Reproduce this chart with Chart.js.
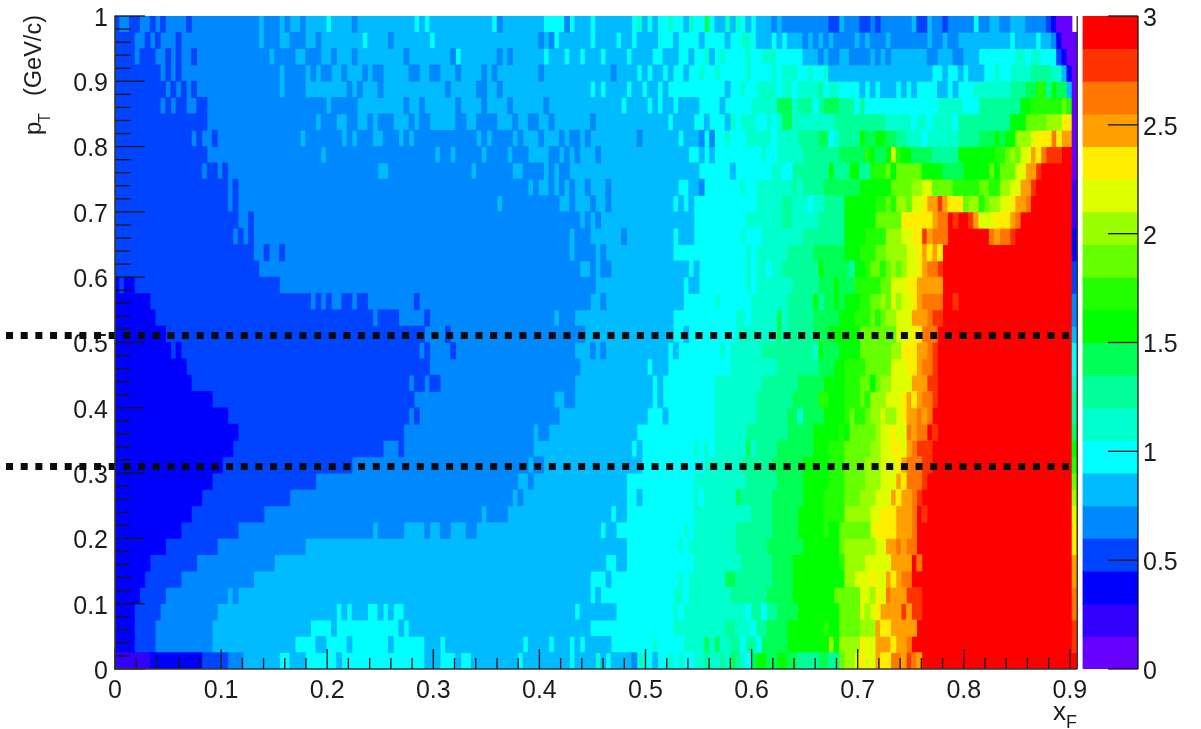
<!DOCTYPE html>
<html>
<head>
<meta charset="utf-8">
<title>pT vs xF</title>
<script src="https://cdn.jsdelivr.net/npm/chart.js@4/dist/chart.umd.js"></script>
<style>
html,body{margin:0;padding:0;background:#fff}
canvas{display:block;filter:blur(0.45px)}
</style>
</head>
<body>
<canvas id="c" width="1201" height="729"></canvas>
<script>
// Colour bins of the z axis, lowest first. Letters in cellRows index this list.
const zBinWidth = 0.15;
const levelLetters = "abcdefghijklmnopqrst";
const palette = ["#6600ff","#3300ff","#0000ff","#0044ff","#0088ff","#00bbff","#00ffff","#00ffcc","#00ff99","#00ff55",
                 "#00ff00","#22ff00","#66ff00","#99ff00","#ddff00","#ffee00","#ffa000","#ff7700","#ff3300","#ff0000"];
const xTicks = [0,0.1,0.2,0.3,0.4,0.5,0.6,0.7,0.8,0.9];
const yTicks = [0,0.1,0.2,0.3,0.4,0.5,0.6,0.7,0.8,0.9,1];
const zTicks = [0,0.5,1,1.5,2,2.5,3];
const xfBinStart = -0.00113;
const xfBinWidth = 0.004882;
const ptBinWidth = 0.025;
const dashedCuts = [0.5107,0.3101];
// One string per pT bin, top (pT = 1) to bottom (pT = 0). Each token: colour bin + index of the
// first xF bin after the run. "w" marks an empty bin.
const cellRows = [
"d1 e3 d5 e7 d8 e9 d10 e14 d15 e28 f29 e32 f33 e34 f36 e37 f41 g42 f46 e47 f58 g59 f60 g61 f73 g74 e75 f83 g87 e88 g89 f92 g93 f100 g101 h102 f103 g104 f105 g107 h108 g110 f111 h112 g114 j115 g116 f118 h119 f120 h121 g122 f123 g124 f127 e128 f129 e138 d140 f141 e144 d146 e147 d148 e154 f155 d157 f158 e160 d161 e166 g167 e169 f171 e173 f176 e180 d181 c182 a185 w186",
"d4 e6 d7 e8 d9 e12 d13 e28 f29 e32 f34 e37 f39 e40 f48 g49 f53 e54 f61 g62 f82 e83 f84 e85 g86 f92 g93 f97 g98 f100 g101 f105 g108 f109 g113 f114 g118 f119 g121 h123 g124 f127 g128 f129 g130 f133 e134 f135 e136 f137 e138 f139 e143 f144 e145 f146 e149 f150 e157 f158 e160 f161 e163 f173 g174 f178 g179 f181 e182 c183 a186",
"d4 e5 d8 e10 d11 e12 d13 e15 d16 e30 f31 e35 f37 e40 f42 e43 f46 e47 f56 e57 f65 e66 g67 f74 e75 f76 e77 f83 g84 f87 g88 f90 g91 f94 g95 f99 g100 f104 g106 f109 g111 f112 g114 h115 f116 g117 h118 g122 h123 g125 h128 g133 f136 e137 f138 e140 f142 e146 f147 e148 f149 e150 f157 e159 f162 e164 f167 g174 h176 g177 h179 g182 d183 c184 a186",
"d9 e10 d11 e12 d13 e32 f33 e37 f38 e39 f40 e42 f44 e45 f48 e49 f50 e52 f57 e59 f61 e63 f66 e67 f71 e72 f73 e74 f82 e83 f96 e97 f101 g102 f103 g104 f106 g107 f108 g110 f111 g113 h114 g116 h117 g122 h123 g127 h128 g129 h132 g134 h135 g137 h138 f158 g160 f161 g163 f164 g165 f168 g170 h171 g173 h177 i181 h183 f184 c185 a186",
"d10 e11 d12 e13 d14 e15 d16 e32 f33 e37 f45 e46 f47 e48 f51 e52 f64 e65 f70 e72 f74 e75 f92 g93 f94 g95 f99 g100 f102 g103 f105 g106 f107 g118 f119 g121 h122 g124 h128 g129 h131 g132 h136 i137 g138 h140 g144 f145 g146 f147 g148 f151 g152 f153 g154 f155 g159 f161 g162 f163 g166 h173 i176 j178 l180 i181 k182 j184 f185 a186",
"d9 e10 d11 e12 d14 e16 d18 e41 f42 e47 f56 e57 f59 e60 f66 e67 f71 e72 f76 e77 f83 e84 f98 g99 f103 g104 f105 g106 f108 g109 f113 g117 f118 g123 h128 j131 h132 i135 g136 i137 j140 i143 g144 i145 g159 h164 g167 i175 k177 l183 m184 l185 a186",
"d18 e39 f40 e43 f45 e47 f49 e50 f51 e54 f57 e58 f59 e61 f66 e68 f70 e74 f77 e78 f80 e82 f84 e85 f92 e93 f107 g108 f112 g114 f115 g118 f119 h120 g121 h124 g126 h127 g128 h129 j131 h139 i149 h154 g155 h157 g158 h162 g163 i173 k176 m180 n183 p185 a186",
"d15 e16 d17 e19 d20 e36 f37 e44 f45 e46 f47 e50 f52 e55 f56 e57 f58 e70 f71 e72 f73 e77 f78 e79 f82 e83 f86 e87 f88 e90 f91 e92 f101 e102 f109 g110 f113 e114 g115 e116 g118 h119 g122 h127 g128 h132 i136 j138 g139 h140 i144 k145 j147 k149 j151 i153 h156 g157 h163 i167 j170 k171 j172 k174 n177 o178 p181 r182 p183 q185 a186",
"d18 e40 f41 e62 f63 e65 f66 e71 f72 e76 f77 e80 f84 e86 f87 e88 f89 e90 f93 e94 f111 g113 f114 g115 f116 g125 h126 g128 h133 i140 j145 l146 k147 j149 k150 o151 l152 k154 j158 i163 k170 l172 m173 n174 m175 o177 q178 p179 r180 s183 t185 a186",
"d17 e18 d20 e21 d22 e51 f53 e69 f70 e77 f79 e83 f84 e85 f86 e88 f113 g119 f120 g127 h129 g131 i138 k139 i142 k144 i146 l149 m150 k151 m156 k160 j164 k169 m170 k171 m174 o176 q178 s179 t185 a186",
"d22 e23 d24 e80 f81 e82 f84 e85 f86 e87 f88 e89 f91 e92 f95 e96 f109 g111 f113 e114 g121 h122 g124 h131 i132 h133 i137 j144 k150 m154 n156 o158 m162 l167 m169 l171 n173 o175 q177 s178 t185 b186",
"d22 e23 d24 e74 f75 e86 f88 e89 f92 e93 f95 e96 f108 g109 f110 g111 f112 g124 h129 i131 h134 g135 h137 i141 k147 l149 m150 l151 n153 m154 o156 p157 q159 s160 q161 p164 m165 n167 l168 m169 n171 o173 p174 q176 r177 t185 b186",
"d24 e26 d27 e90 f91 e92 f93 e94 f112 g122 h129 i131 h136 i141 k147 m152 p158 q159 r161 t162 s163 t165 s166 q167 o170 p173 q174 r175 t185 b186",
"d23 e24 d25 e26 d27 e88 f89 e92 f98 e99 f108 g109 f112 g121 h122 g125 h133 i141 k145 l149 n152 o154 p156 s157 q158 r161 t169 r170 q171 r173 s174 t185 c186",
"d27 e29 d30 e32 d33 e88 f89 e93 f94 e95 f108 g122 h123 g124 h130 i135 j141 k144 l147 m149 n153 o155 p156 q157 p158 q159 p160 t185 c186",
"d28 e90 f92 e93 f94 e96 f111 g112 f113 g122 h123 g124 h126 g127 h129 i136 k137 j142 i143 k145 l146 m148 l149 m150 n151 m152 n153 o155 p156 q157 r159 s160 t185 d186",
"c1 d2 c4 d32 e93 f110 g111 f113 g122 h123 g124 h131 i136 j139 k140 j143 l148 m150 o153 p155 q160 t185 d186",
"c7 d38 e39 d40 e41 d42 e44 d46 e47 d49 e58 d59 e92 f94 e95 f110 g116 h117 g123 h130 i135 k136 i137 j139 k140 j141 k144 l146 m148 n149 m150 o151 n152 o154 p155 q156 r160 t162 s163 t185 e186",
"c8 d50 e51 d55 e60 d61 e85 f86 e89 f108 g120 h122 g123 h128 j129 h130 i135 j140 k143 l146 m147 l148 m149 n151 o154 q157 r158 s160 t185 e186",
"c10 d60 e64 d65 e91 f108 g110 f111 g120 h128 j129 h130 i135 j138 k144 m151 o154 p156 r159 t185 f186",
"c11 d12 c13 d59 e60 d61 e65 d66 e89 f92 e93 f94 e95 f107 g108 f109 g117 h118 g119 h125 i135 h136 k137 j140 k144 m150 n152 p155 q157 r158 s159 t185 g186",
"c14 d61 e90 f103 g104 f107 g119 h128 i136 j139 k141 l145 m150 o153 p155 q156 r158 s159 t185 g186",
"c15 d57 e58 d60 e61 d63 e89 f104 g105 f106 g116 h125 i132 j137 k141 l144 m146 k147 m148 n150 o154 q157 s159 t185 h186",
"c19 d58 e85 f87 e89 f104 g105 f106 g116 h124 i131 j136 l138 k141 l144 m145 l146 n149 o152 p153 q154 p155 q156 r158 s159 t185 i186",
"c22 d57 e58 d59 e86 f103 g106 f107 g116 h124 i130 j132 h133 j137 k141 l142 m143 l145 m146 n148 o149 n151 o152 p153 q155 r156 q157 r158 t185 i186",
"c24 d56 e81 f82 e84 f101 g116 h122 i130 j135 k140 l141 k142 m147 n148 o150 p151 o153 r154 q155 r157 t158 s159 t185 j186",
"c23 d52 e55 d56 e81 f100 g101 f102 g112 h113 g114 h115 g116 h122 j123 h124 i128 j135 k138 l141 m146 n148 o150 p152 o153 q154 r155 s158 t185 k186",
"c21 d46 e80 f81 e83 f102 g114 h121 i127 j133 k138 l141 m145 n148 o151 p152 q153 r156 s158 t185 l186",
"c19 d39 e78 f80 e81 f99 g112 h122 i128 j133 k138 l141 m145 n148 o151 q152 p153 r156 s157 t185 m186",
"c17 d34 e77 f78 e79 f99 g101 f102 g112 h113 g114 h120 j121 i127 j133 k137 l141 m144 n147 o150 q151 p152 q154 r155 s156 t185 n186",
"c15 d29 e71 f72 e76 f96 g97 f99 g112 h123 i127 j132 k137 l141 n146 o148 p151 q154 r155 t156 s157 t185 o186",
"c13 d24 e50 f51 e56 f60 e61 f63 e65 f68 e70 f94 g95 f97 g110 h111 g112 h120 i127 j132 k137 l138 k140 m146 o147 p151 q154 r155 t185 p186",
"c10 d20 e37 f99 g109 h110 g111 h120 i126 j133 k140 m141 n147 o149 q151 r152 q153 r155 t185 p186",
"c7 d16 e31 f95 g97 f99 g112 h121 i127 j131 k140 l141 n145 o150 q154 t155 r156 t185 q186",
"c6 d13 e27 f92 g95 f96 g109 h110 g111 h118 j120 i127 j131 k141 n143 o146 p147 o149 q150 p151 q152 r154 t185 q186",
"c5 d10 e22 f23 e24 f92 g93 f94 g108 h110 g111 h119 i126 j131 k139 m144 o146 n147 p148 o149 r150 q153 s156 t185 r186",
"c4 d9 e20 f43 g44 f45 g46 f49 g51 f52 g53 f54 g56 f89 g90 f97 g108 h109 g110 h122 g123 i125 g126 i128 j132 k140 m144 o145 n146 o147 p148 q152 s153 q154 s156 t185 r186",
"c4 d8 e19 f38 g42 f43 g55 f56 g57 f92 g108 h118 i120 h123 g124 i126 j130 k137 l138 k140 m144 n147 q148 p150 q155 t185 s186",
"c4 d8 e19 f35 g39 f41 g45 f46 g53 f54 g60 f63 g64 f79 g80 f84 g85 f88 g89 f90 g91 f96 g104 h105 g110 h114 j115 h116 j117 h119 i121 g122 i124 g125 j130 k138 n139 k140 n144 p145 o147 q150 p151 q153 r154 t185 s186",
"b7 c17 d22 e25 f32 g34 f37 g43 f44 g60 f63 g66 f67 g69 f78 g79 f88 g89 f93 h94 f95 g96 f100 e101 h103 g104 f105 g107 h108 g109 h110 g112 h114 i115 h117 i118 h119 j120 i121 h122 g123 j124 k126 j128 k130 j132 i136 j138 i140 m141 n143 o144 p145 o147 q148 p150 r152 q153 s154 r155 q156 t186"
];

const xfEdge = i => xfBinStart + i * xfBinWidth;
const levelRuns = palette.map(() => []);
cellRows.forEach((row, r) => {
  const pt = 1 - ptBinWidth * (r + 0.5);
  let from = 0;
  row.split(" ").forEach(tok => {
    const to = +tok.slice(1), lvl = levelLetters.indexOf(tok[0]);
    if (lvl >= 0) levelRuns[lvl].push({y: pt, x: [xfEdge(from), xfEdge(to)]});
    from = to;
  });
});

const FONT = "'Liberation Sans', Arial, sans-serif";
const INK = "#1c1c1c";
const xAxisEnd = xfEdge(186);          // right frame of the map
const zBarFrom = 0.9123, zBarTo = 0.9642; // colour bar span, on the x scale

const datasets = levelRuns.map((runs, i) => ({
  type: "bar", label: "z " + (i * zBinWidth).toFixed(2) + "-" + ((i + 1) * zBinWidth).toFixed(2),
  data: runs, indexAxis: "y", grouped: false, barThickness: 16.45,
  backgroundColor: palette[i], borderWidth: 0, yAxisID: "y", xAxisID: "x", order: 2
}));
datasets.push({
  type: "bar", label: "colour scale", indexAxis: "y", grouped: false, barThickness: 32.9,
  data: palette.map((_, i) => ({y: (i + 0.5) * zBinWidth, x: [zBarFrom, zBarTo]})),
  backgroundColor: palette, borderWidth: 0, yAxisID: "z", xAxisID: "x", order: 2
});
dashedCuts.forEach(v => datasets.push({
  type: "line", label: "cut " + v, indexAxis: "x", clip: false, order: 1,
  data: [{x: -0.1027, y: v}, {x: 0.8992, y: v}],
  borderColor: "#0b0b0b", borderWidth: 7, borderDash: [7, 7.67], pointRadius: 0, tension: 0,
  yAxisID: "y", xAxisID: "x"
}));

const frame = {
  id: "rootFrame",
  afterDraw(chart) {
    const {ctx, scales: {x, y, z}} = chart;
    const x0 = x.getPixelForValue(0), xe = x.getPixelForValue(xAxisEnd);
    const y0 = y.getPixelForValue(0), y1 = y.getPixelForValue(1);
    const zx = x.getPixelForValue(zBarTo);
    ctx.save();
    ctx.strokeStyle = "#151515";
    const seg = (a, b, c, d, w) => { ctx.lineWidth = w; ctx.beginPath(); ctx.moveTo(a, b); ctx.lineTo(c, d); ctx.stroke(); };
    for (let k = 0; k <= 50; k++) {           // pT ticks every 0.02, long at every 0.1
      const p = y.getPixelForValue(k * 0.02);
      seg(x0, p, x0 + (k % 5 === 0 ? 30 : 16), p, 1.3);
    }
    for (let k = 0; k <= 45; k++) {           // xF ticks every 0.02, long at every 0.1
      const p = x.getPixelForValue(k * 0.02);
      seg(p, y0, p, y0 - (k % 5 === 0 ? 20 : 11), 1.3);
    }
    zTicks.forEach(v => { const p = z.getPixelForValue(v); seg(zx - 30, p, zx, p, 1.3); });
    ctx.strokeStyle = "#333";
    seg(x0, y1 - 0.5, x0, y0 + 1, 1.6);
    seg(x0, y0, xe, y0, 1.6);
    seg(xe, y1, xe, y0, 1.4);
    ctx.strokeStyle = "#111";
    seg(zx, y1, zx, y0, 1.3);
    // axis titles
    ctx.fillStyle = INK; ctx.textBaseline = "alphabetic"; ctx.textAlign = "left";
    ctx.font = "26px " + FONT;
    ctx.fillText("x", 1053, 720);
    ctx.font = "18px " + FONT;
    ctx.fillText("F", 1066, 728);
    ctx.translate(41, 135); ctx.rotate(-Math.PI / 2);
    ctx.font = "24px " + FONT;
    ctx.fillText("p", 0, 0);
    ctx.font = "16px " + FONT;
    ctx.fillText("T", 12, 9);
    ctx.font = "23.5px " + FONT;
    ctx.fillText("(GeV/c)", 39, 0);
    ctx.restore();
  }
};

const fitBox = (prop, val) => s => {
  s[prop] = val;
  s.paddingTop = s.paddingBottom = s.paddingLeft = s.paddingRight = 0;
};
// Vertical axes: labels sit a little below the tick, as in the reference.
const nudgeLabels = dy => s => {
  const compute = s._computeLabelItems;
  if (s._nudged || !compute) return;
  s._nudged = true;
  s._computeLabelItems = function (area) {
    const items = compute.call(this, area);
    items.forEach(it => { const t = it.options.translation; it.options.translation = [t[0], t[1] + dy]; });
    return items;
  };
};
const fmt = v => String(+(+v).toFixed(2));
const tickFont = {family: FONT, size: 25};

new Chart(document.getElementById("c"), {
  type: "bar",
  data: {datasets},
  options: {
    responsive: false, animation: false, indexAxis: "y",
    events: [],
    layout: {padding: {top: 16, left: 0, right: 0, bottom: 0}},
    plugins: {legend: {display: false}, tooltip: {enabled: false}, title: {display: false}},
    scales: {
      x: {
        type: "linear", position: "bottom", min: 0, max: zBarTo, offset: false, stacked: false,
        grid: {display: false, drawTicks: false}, border: {display: false},
        afterBuildTicks: s => { s.ticks = xTicks.map(value => ({value})); },
        afterFit: fitBox("height", 60),
        ticks: {color: INK, font: tickFont, padding: 7, maxRotation: 0, autoSkip: false, callback: fmt}
      },
      y: {
        type: "linear", position: "left", min: 0, max: 1, offset: false,
        grid: {display: false, drawTicks: false}, border: {display: false},
        afterBuildTicks: s => { s.ticks = yTicks.map(value => ({value})); },
        afterFit: fitBox("width", 115),
        afterDataLimits: nudgeLabels(3),
        ticks: {color: INK, font: tickFont, padding: 7, autoSkip: false, callback: fmt}
      },
      z: {
        type: "linear", axis: "y", position: "right", min: 0, max: 3, offset: false,
        grid: {display: false, drawTicks: false}, border: {display: false},
        afterBuildTicks: s => { s.ticks = zTicks.map(value => ({value})); },
        afterFit: fitBox("width", 63),
        afterDataLimits: nudgeLabels(3),
        ticks: {color: INK, font: tickFont, padding: 5, autoSkip: false, callback: fmt}
      }
    }
  },
  plugins: [frame]
});
</script>
</body>
</html>
